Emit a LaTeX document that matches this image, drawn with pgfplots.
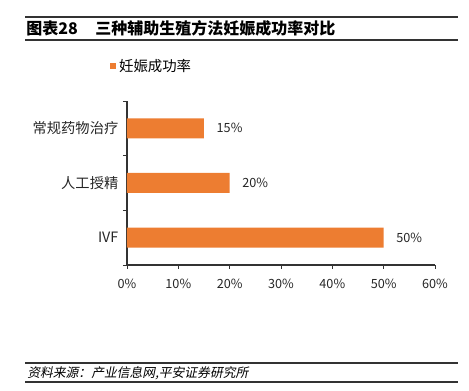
\documentclass[border=0pt]{standalone}
\usepackage{fontspec}
\setmainfont{Noto Sans CJK SC}
\newfontfamily\cjkit[FakeSlant=0.2]{Noto Sans CJK SC}
\usepackage{pgfplots}
\pgfplotsset{compat=1.18}
\definecolor{barorange}{HTML}{ED7D31}
\begin{document}
\begin{tikzpicture}[x=0.75pt,y=0.75pt]
\useasboundingbox (0,0) rectangle (469,391);
% title rules
\draw[line width=1.2pt,black!80] (25,374) -- (458,374);
\draw[line width=1pt,black!80] (25,351) -- (458,351);
\node[anchor=west,inner sep=0pt,font=\fontsize{12}{14}\selectfont\bfseries] at (26,362.5) {图表28\hspace{1.1em}三种辅助生殖方法妊娠成功率对比};
% footer rules
\draw[line width=1pt,black!80] (25,28) -- (458,28);
\draw[line width=1pt,black!80] (25,9) -- (458,9);
\node[anchor=west,inner sep=0pt,font=\fontsize{9.6}{11}\selectfont\cjkit] at (27,18) {资料来源：产业信息网,平安证券研究所};
\begin{axis}[
  at={(95.25pt,94.5pt)}, anchor=south west,
  scale only axis, width=231pt, height=123pt,
  xbar, bar width=15pt,
  xmin=0, xmax=60, ymin=-0.5, ymax=2.5,
  axis lines=left, axis line style={-, black!80, line width=0.8pt},
  xtick={0,10,20,30,40,50,60},
  xticklabels={0\%,10\%,20\%,30\%,40\%,50\%,60\%},
  xtick style={black!80, line width=0.6pt},
  tick align=outside, major tick length=3pt,
  ytick={-0.5,0.5,1.5,2.5}, yticklabels={},
  ytick style={black!80, line width=0.6pt},
  extra y ticks={0,1,2},
  extra y tick labels={IVF,人工授精,常规药物治疗},
  extra y tick style={major tick length=0pt},
  ticklabel style={font=\fontsize{9.5}{12}\selectfont, text=black!85},
  yticklabel style={xshift=-3pt, font=\fontsize{10.7}{12}\selectfont},
  xticklabel style={yshift=-4pt},
  /pgf/number format/assume math mode=true,
  nodes near coords={\pgfmathprintnumber{\pgfplotspointmeta}\%},
  nodes near coords style={anchor=west, xshift=6pt, font=\fontsize{9.5}{12}\selectfont, text=black!85},
  legend style={at={(-0.055,1.213)}, anchor=west, draw=none, fill=none, font=\fontsize{10.8}{12}\selectfont, inner sep=0pt},
  legend image code/.code={\fill[barorange] (0pt,-2.3pt) rectangle (4.6pt,2.3pt);},
  clip=false,
]
\addplot[fill=barorange, draw=none] coordinates {(50,0) (20,1) (15,2)};
\addlegendentry{妊娠成功率}
\end{axis}
\end{tikzpicture}
\end{document}
